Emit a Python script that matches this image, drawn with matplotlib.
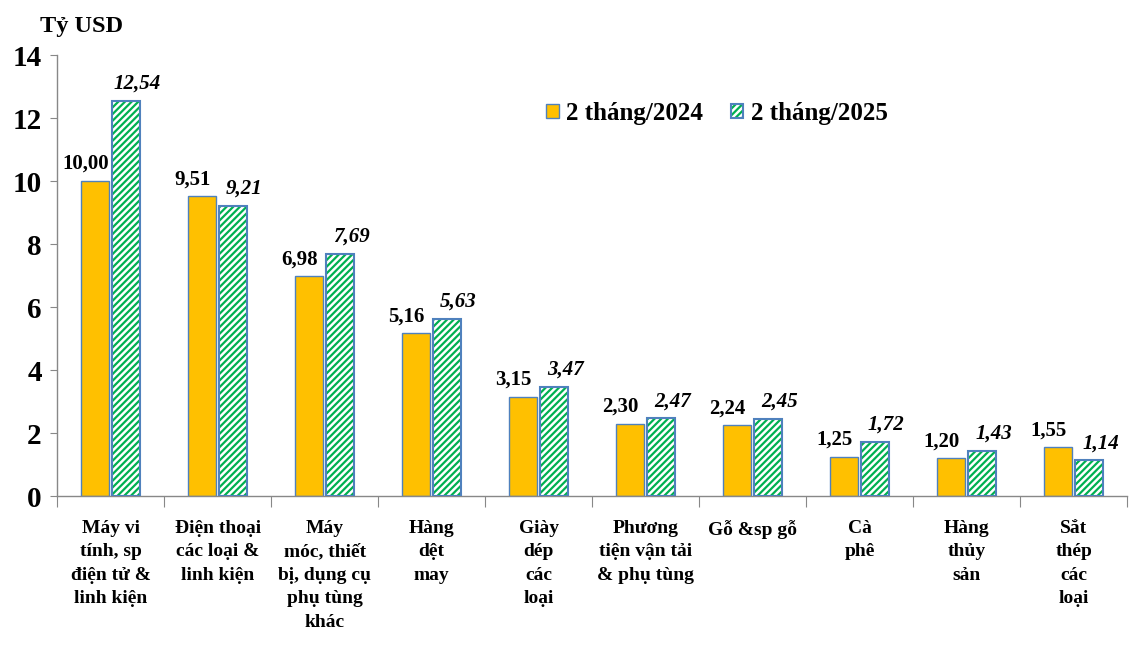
import matplotlib
matplotlib.use("Agg")
import matplotlib.pyplot as plt
import numpy as np
from matplotlib.patches import Patch
from matplotlib.legend_handler import HandlerTuple

categories = ["Máy vi\ntính, sp\nđiện tử &\nlinh kiện",
              "Điện thoại\ncác loại &\nlinh kiện",
              "Máy\nmóc, thiết\nbị, dụng cụ\nphụ tùng\nkhác",
              "Hàng\ndệt\nmay",
              "Giày\ndép\ncác\nloại",
              "Phương\ntiện vận tải\n& phụ tùng",
              "Gỗ &sp gỗ",
              "Cà\nphê",
              "Hàng\nthủy\nsản",
              "Sắt\nthép\ncác\nloại"]
v2024 = [10.00, 9.51, 6.98, 5.16, 3.15, 2.30, 2.24, 1.25, 1.20, 1.55]
v2025 = [12.54, 9.21, 7.69, 5.63, 3.47, 2.47, 2.45, 1.72, 1.43, 1.14]
series_names = ["2 tháng/2024", "2 tháng/2025"]
yticks = [0, 2, 4, 6, 8, 10, 12, 14]

plt.rcParams['font.family'] = ['Liberation Serif', 'DejaVu Serif']
plt.rcParams['hatch.linewidth'] = 1.6

fig = plt.figure(figsize=(11.41, 6.70), dpi=100)
ax = fig.add_axes([0.05, 0.2597, 0.938, 0.6582])

x = np.arange(len(categories))
w = 0.26
off = 0.145
yellow = "#FFC000"
blue = "#4F81BD"
green = "#00B050"

ax.bar(x - off, v2024, w, color=yellow, edgecolor=blue, linewidth=1.0, zorder=2)
ax.bar(x + off, v2025, w, facecolor="white", edgecolor=green, hatch="/////", linewidth=0, zorder=2)
ax.bar(x + off, v2025, w, fill=False, edgecolor=blue, linewidth=1.5, zorder=3)

for xi, v in zip(x, v2024):
    ax.annotate(f"{v:.2f}".replace(".", ","), (xi - off, v), xytext=(-7, 5),
                textcoords="offset points", ha="center", va="bottom",
                fontsize=15, fontweight="bold")
for xi, v in zip(x, v2025):
    ax.annotate(f"{v:.2f}".replace(".", ","), (xi + off, v), xytext=(8, 5),
                textcoords="offset points", ha="center", va="bottom",
                fontsize=15, fontweight="bold", fontstyle="italic")

ax.set_xlim(-0.5, len(categories) - 0.5)
ax.set_ylim(0, 14)
ax.set_yticks(yticks)
ax.set_yticklabels([str(t) for t in yticks], fontsize=21, fontweight="bold")
ax.tick_params(axis="y", direction="out", length=5, color="#888888", pad=6)

ax.set_xticks(np.arange(len(categories) + 1) - 0.5, minor=False)
ax.set_xticklabels([])
ax.tick_params(axis="x", direction="out", length=8, color="#888888")
ax.set_xticks(x, minor=True)
ax.set_xticklabels(categories, minor=True, fontsize=14, fontweight="bold",
                   linespacing=1.5, va="top")
ax.tick_params(axis="x", which="minor", length=0, pad=17)

for s in ["top", "right"]:
    ax.spines[s].set_visible(False)
for s in ["left", "bottom"]:
    ax.spines[s].set_color("#888888")
    ax.spines[s].set_linewidth(1.0)

fig.text(0.035, 0.96, "Tỷ USD", fontsize=17.5, fontweight="bold", ha="left", va="center")

h1 = Patch(facecolor=yellow, edgecolor=blue, linewidth=1.0)
h2a = Patch(facecolor="white", edgecolor=green, hatch="/////", linewidth=0)
h2b = Patch(fill=False, edgecolor=blue, linewidth=1.5)
ax.legend([h1, (h2a, h2b)], series_names, handler_map={tuple: HandlerTuple(ndivide=1)},
          loc="upper left", bbox_to_anchor=(0.436, 0.945), ncol=2, frameon=False,
          prop={"size": 18, "weight": "bold"}, handlelength=0.5, handleheight=0.5,
          handletextpad=0.3, columnspacing=1.1)

fig.savefig("out.png", dpi=100)
